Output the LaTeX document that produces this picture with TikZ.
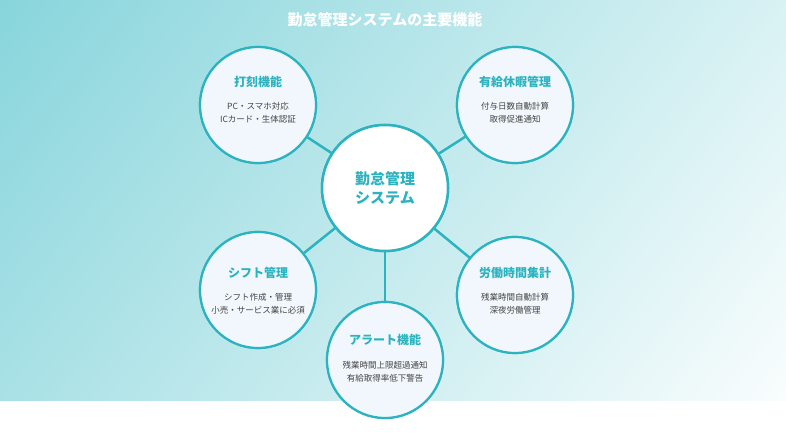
\documentclass[tikz,border=0pt]{standalone}
\usepackage{fontspec}
\setmainfont{Noto Sans CJK JP}
\definecolor{teal1}{HTML}{2BB3BF}
\definecolor{bgA}{HTML}{14ADBA}
\definecolor{fillc}{HTML}{F1F7FC}
\definecolor{txt}{HTML}{444444}
\pgfdeclarehorizontalshading{bgsh}{100bp}{color(0bp)=(bgA); color(10bp)=(bgA); color(33bp)=(bgA!55!white); color(66bp)=(white); color(100bp)=(white)}
\begin{document}
\begin{tikzpicture}[x=1pt,y=-1pt,
  sat/.style={circle,draw=teal1,line width=2.2pt,fill=fillc,minimum size=116pt,inner sep=0pt},
  hub/.style={circle,draw=teal1,line width=2.5pt,fill=white,minimum size=126pt,inner sep=0pt},
  link/.style={draw=teal1,line width=2.5pt}]
\useasboundingbox (0,0) rectangle (786,438);
\fill[white] (0,0) rectangle (786,438);
\begin{scope}
\clip (0,0) rectangle (786,400);
\shade[shading=bgsh,shading angle=-38.5] (-357,-550) rectangle (1143,950);
\end{scope}
\node[white,font=\bfseries\fontsize{15}{18}\selectfont] (title) at (385,20) {勤怠管理システムの主要機能};
\node[sat] (a) at (258,105) {};
\node[sat] (b) at (515,105) {};
\node[sat] (c) at (258,290) {};
\node[sat] (d) at (515,295) {};
\node[sat] (e) at (385,360) {};
\node[hub] (h) at (385,188) {};
\foreach \n in {a,b,c,d,e} \draw[link] (h) -- (\n);
\foreach \n in {a,b,c,d,e} \node[sat] at (\n) {};
\node[hub] at (h) {};
\tikzset{ttl/.style={teal1,font=\bfseries\fontsize{12}{14}\selectfont},
  sub/.style={txt,font=\fontsize{8.5}{13}\selectfont,align=center}}
\node[teal1,font=\bfseries\fontsize{15}{19}\selectfont,align=center] (ht) at (385,188) {勤怠管理\\システム};
\node[ttl] (at) at (258,82) {打刻機能};
\node[sub] (as) at (258,113) {PC・スマホ対応\\ICカード・生体認証};
\node[ttl] (bt) at (515,82) {有給休暇管理};
\node[sub] (bs) at (515,113) {付与日数自動計算\\取得促進通知};
\node[ttl] (ct) at (258,273) {シフト管理};
\node[sub] (cs) at (258,304) {シフト作成・管理\\小売・サービス業に必須};
\node[ttl] (dt) at (515,273) {労働時間集計};
\node[sub] (ds) at (515,304) {残業時間自動計算\\深夜労働管理};
\node[ttl] (et) at (385,340) {アラート機能};
\node[sub] (es) at (385,372) {残業時間上限超過通知\\有給取得率低下警告};
\end{tikzpicture}
\end{document}
